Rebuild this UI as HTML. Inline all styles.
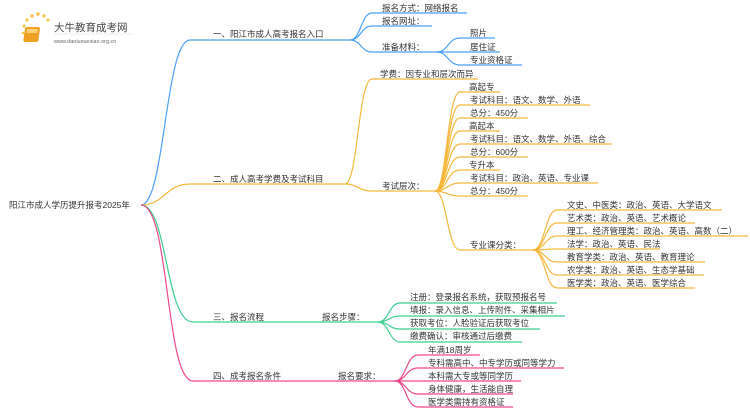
<!DOCTYPE html>
<html><head><meta charset="utf-8"><style>
html,body{margin:0;padding:0;background:#fff;}
svg{display:block;}
text{font-family:"Liberation Sans","Noto Sans CJK SC",sans-serif;font-size:8.5px;fill:#333;}
.b{stroke:#4a9ff5}.o{stroke:#f6b73c}.g{stroke:#3ccf8e}.p{stroke:#f0468c}
path{fill:none;stroke-width:1.2}
</style></head><body>
<svg width="750" height="410" viewBox="0 0 750 410">
<!-- logo -->
<g>
<circle cx="24" cy="26" r="1.5" fill="#f6c343"/><circle cx="27" cy="20" r="1.6" fill="#f6c343"/><circle cx="32" cy="16" r="1.7" fill="#f6c343"/><circle cx="38" cy="14" r="1.7" fill="#f6c343"/><circle cx="44" cy="16" r="1.6" fill="#f6c343"/><circle cx="48" cy="20" r="1.5" fill="#f6c343"/><circle cx="23" cy="33" r="1.3" fill="#f6c343"/><circle cx="25" cy="40" r="1.2" fill="#f6c343"/>
<rect x="29" y="27" width="15" height="15" rx="2" fill="#f0a020" transform="skewX(-8)"/>
<rect x="31" y="29" width="11" height="4" fill="#fbd27a" transform="skewX(-8)"/>
<text x="54" y="31" style="font-size:10.5px;fill:#444">大牛教育成考网</text>
<text x="54" y="43" style="font-size:5.5px;fill:#666">www.daniuxuexiao.org.cn</text>
<line x1="54" y1="34" x2="132" y2="34" stroke="#ddd" stroke-width="0.6"/>
</g>
<text x="9" y="208">阳江市成人学历提升报考2025年</text>
<!-- B1 -->
<path class="b" d="M141 205 C165 205 165 40 190 40 L350 40"/>
<text x="213" y="37">一、阳江市成人高考报名入口</text>
<path class="b" d="M350 40 C361 40 361 13 372 13 L467 13"/>
<path class="b" d="M350 40 C361 40 361 26 372 26 L432 26"/>
<path class="b" d="M350 40 C361 40 361 52 372 52 L437 52"/>
<text x="382" y="11">报名方式：网络报名</text>
<text x="382" y="24">报名网址：</text>
<text x="382" y="50">准备材料：</text>
<path class="b" d="M437 52 C448 52 448 38 460 38 L495 38"/>
<path class="b" d="M437 52 C448 52 448 52 460 52 L500 52"/>
<path class="b" d="M437 52 C448 52 448 65 460 65 L522 65"/>
<text x="470" y="36">照片</text>
<text x="470" y="50">居住证</text>
<text x="470" y="63">专业资格证</text>
<!-- B2 -->
<path class="o" d="M141 205 C165 205 165 184 190 184 L345 184"/>
<text x="213" y="182">二、成人高考学费及考试科目</text>
<path class="o" d="M345 184 C358 184 358 79 372 79 L478 79"/>
<path class="o" d="M345 184 C358 184 358 191 372 191 L435 191"/>
<text x="380" y="77">学费：因专业和层次而异</text>
<text x="382" y="189">考试层次：</text>
<path class="o" d="M435 191 C447 191 447 92 460 92 L500 92"/>
<path class="o" d="M435 191 C447 191 447 105 460 105 L590 105"/>
<path class="o" d="M435 191 C447 191 447 118 460 118 L528 118"/>
<path class="o" d="M435 191 C447 191 447 131 460 131 L500 131"/>
<path class="o" d="M435 191 C447 191 447 144 460 144 L612 144"/>
<path class="o" d="M435 191 C447 191 447 157 460 157 L528 157"/>
<path class="o" d="M435 191 C447 191 447 170 460 170 L500 170"/>
<path class="o" d="M435 191 C447 191 447 183 460 183 L598 183"/>
<path class="o" d="M435 191 C447 191 447 196 460 196 L528 196"/>
<path class="o" d="M435 191 C447 191 447 250 460 250 L533 250"/>
<text x="469" y="90">高起专</text>
<text x="470" y="103">考试科目：语文、数学、外语</text>
<text x="470" y="116">总分：450分</text>
<text x="469" y="129">高起本</text>
<text x="470" y="142">考试科目：语文、数学、外语、综合</text>
<text x="470" y="155">总分：600分</text>
<text x="469" y="168">专升本</text>
<text x="470" y="181">考试科目：政治、英语、专业课</text>
<text x="470" y="194">总分：450分</text>
<text x="470" y="248">专业课分类：</text>
<path class="o" d="M533 250 C545 250 545 210 557 210 L722 210"/>
<path class="o" d="M533 250 C545 250 545 223 557 223 L695 223"/>
<path class="o" d="M533 250 C545 250 545 236 557 236 L748 236"/>
<path class="o" d="M533 250 C545 250 545 249 557 249 L660 249"/>
<path class="o" d="M533 250 C545 250 545 262 557 262 L705 262"/>
<path class="o" d="M533 250 C545 250 545 275 557 275 L704 275"/>
<path class="o" d="M533 250 C545 250 545 288 557 288 L695 288"/>
<text x="567" y="208">文史、中医类：政治、英语、大学语文</text>
<text x="567" y="221">艺术类：政治、英语、艺术概论</text>
<text x="567" y="234">理工、经济管理类：政治、英语、高数（二）</text>
<text x="567" y="247">法学：政治、英语、民法</text>
<text x="567" y="260">教育学类：政治、英语、教育理论</text>
<text x="567" y="273">农学类：政治、英语、生态学基础</text>
<text x="567" y="286">医学类：政治、英语、医学综合</text>
<!-- B3 -->
<path class="g" d="M141 205 C168 205 165 322 193 322 L378 322"/>
<text x="213" y="320">三、报名流程</text>
<text x="322" y="320">报名步骤：</text>
<path class="g" d="M378 322 C389 322 389 303 400 303 L557 303"/>
<path class="g" d="M378 322 C389 322 389 316 400 316 L565 316"/>
<path class="g" d="M378 322 C389 322 389 329 400 329 L540 329"/>
<path class="g" d="M378 322 C389 322 389 342 400 342 L522 342"/>
<text x="410" y="300">注册：登录报名系统，获取预报名号</text>
<text x="410" y="313">填报：录入信息、上传附件、采集相片</text>
<text x="410" y="326">获取考位：人脸验证后获取考位</text>
<text x="410" y="339">缴费确认：审核通过后缴费</text>
<!-- B4 -->
<path class="p" d="M141 205 C170 205 165 381 193 381 L395 381"/>
<text x="213" y="379">四、成考报名条件</text>
<text x="338" y="379">报名要求：</text>
<path class="p" d="M395 381 C406 381 406 355 418 355 L480 355"/>
<path class="p" d="M395 381 C406 381 406 368 418 368 L564 368"/>
<path class="p" d="M395 381 C406 381 406 381 418 381 L521 381"/>
<path class="p" d="M395 381 C406 381 406 394 418 394 L513 394"/>
<path class="p" d="M395 381 C406 381 406 407 418 407 L513 407"/>
<text x="428" y="353">年满18周岁</text>
<text x="428" y="366">专科需高中、中专学历或同等学力</text>
<text x="428" y="379">本科需大专或等同学历</text>
<text x="428" y="392">身体健康，生活能自理</text>
<text x="428" y="405">医学类需持有资格证</text>
</svg>
</body></html>
